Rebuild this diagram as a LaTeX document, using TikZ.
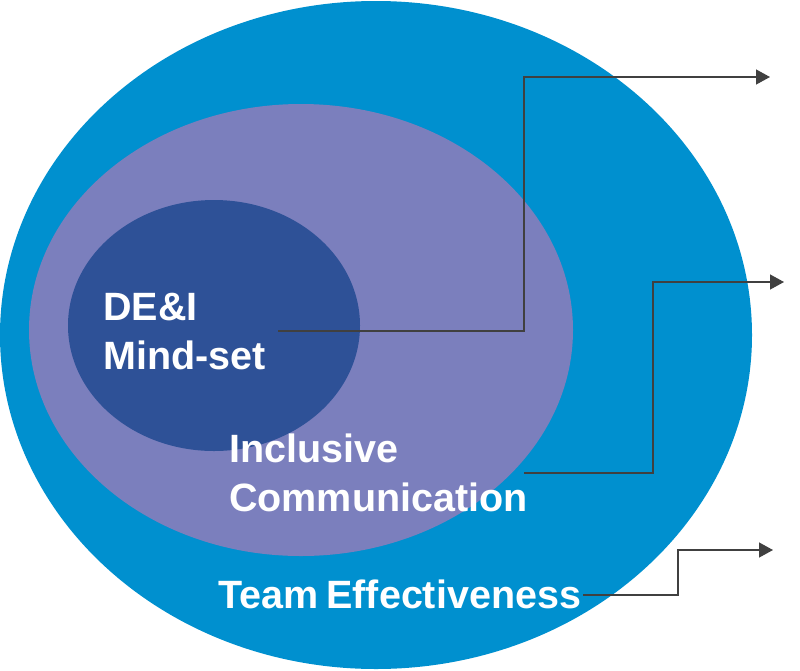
\documentclass[tikz,border=0pt]{standalone}
\usepackage{fontspec}
\setmainfont{Liberation Sans}
\usetikzlibrary{arrows.meta}
\definecolor{outerblue}{HTML}{0090CF}
\definecolor{midpurple}{HTML}{7B7FBD}
\definecolor{innerblue}{HTML}{2E5197}
\definecolor{linegray}{HTML}{404040}
\tikzset{
  lbl/.style={text=white, font=\fontsize{39.5}{49}\selectfont\bfseries, inner sep=0pt, anchor=base west},
  conn/.style={draw=linegray, line width=1.3pt, -{Triangle[length=14pt,width=15pt]}},
}
\begin{document}
\begin{tikzpicture}[x=1pt,y=-1pt]
\useasboundingbox (0,0) rectangle (800,670);
\fill[outerblue] (376,335) ellipse [x radius=376, y radius=334];
\fill[midpurple] (301,330) ellipse [x radius=272, y radius=226];
\fill[innerblue] (214,325.5) ellipse [x radius=146, y radius=125.5];

\node[lbl] (dei) at (103,320) {DE\&I};
\node[lbl] (mind) at (103,369) {Mind-set};
\node[lbl] (incl) at (229,462) {Inclusive};
\node[lbl] (comm) at (229,511) {Communication};
\node[lbl] (team) at (218,608) {Team\kern-3pt\ Effectiveness};

\coordinate (s1) at (278,331);
\coordinate (e1) at (770,77);
\coordinate (s2) at (524,473);
\coordinate (e2) at (784,282);
\coordinate (s3) at (583,595);
\coordinate (e3) at (773,550);

\draw[conn] (s1) -- (524,331) -- (524,77) -- (e1);
\draw[conn] (s2) -- (653,473) -- (653,282) -- (e2);
\draw[conn] (s3) -- (678,595) -- (678,550) -- (e3);
\end{tikzpicture}
\end{document}
